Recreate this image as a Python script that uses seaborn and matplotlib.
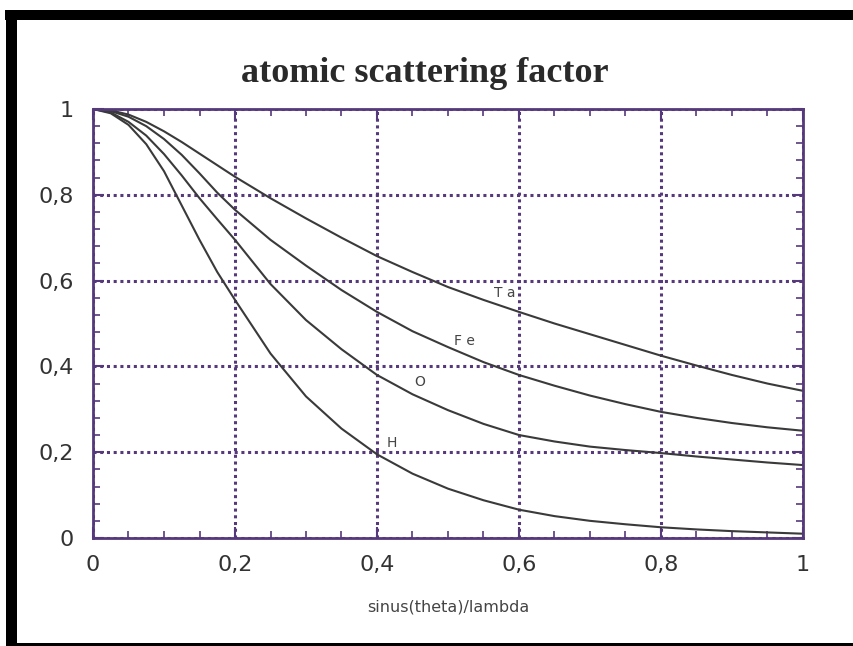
import numpy as np
import pandas as pd
import matplotlib
matplotlib.use("Agg")
import matplotlib.pyplot as plt
from matplotlib.patches import Rectangle
from matplotlib.ticker import MultipleLocator, FuncFormatter
import seaborn as sns

# sin(theta)/lambda sample positions
s = [0.0, 0.025, 0.05, 0.075, 0.1, 0.125, 0.15, 0.175, 0.2, 0.25, 0.3, 0.35,
     0.4, 0.45, 0.5, 0.55, 0.6, 0.65, 0.7, 0.75, 0.8, 0.85, 0.9, 0.95, 1.0]

f_Ta = [1.0, 0.997, 0.987, 0.97, 0.948, 0.923, 0.896, 0.869, 0.842, 0.792, 0.745, 0.70,
        0.657, 0.62, 0.585, 0.555, 0.527, 0.50, 0.475, 0.45, 0.425, 0.402, 0.38, 0.36, 0.343]
f_Fe = [1.0, 0.995, 0.982, 0.96, 0.93, 0.893, 0.85, 0.805, 0.765, 0.695, 0.635, 0.578,
        0.527, 0.482, 0.445, 0.41, 0.38, 0.355, 0.332, 0.312, 0.294, 0.28, 0.268, 0.258, 0.25]
f_O = [1.0, 0.992, 0.97, 0.938, 0.895, 0.845, 0.792, 0.743, 0.695, 0.592, 0.508, 0.44,
       0.38, 0.335, 0.298, 0.266, 0.24, 0.225, 0.213, 0.205, 0.198, 0.19, 0.183, 0.176, 0.17]
f_H = [1.0, 0.99, 0.963, 0.918, 0.855, 0.775, 0.695, 0.62, 0.555, 0.43, 0.33, 0.255,
       0.195, 0.15, 0.115, 0.088, 0.066, 0.051, 0.04, 0.032, 0.025, 0.02, 0.016, 0.013, 0.01]

elements = ["T a", "F e", "O", "H"]
label_x = [0.58, 0.523, 0.46, 0.421]
label_y = [0.571, 0.459, 0.364, 0.221]

df = pd.concat([
    pd.DataFrame({"s": s, "f": f_Ta, "el": "T a"}),
    pd.DataFrame({"s": s, "f": f_Fe, "el": "F e"}),
    pd.DataFrame({"s": s, "f": f_O, "el": "O"}),
    pd.DataFrame({"s": s, "f": f_H, "el": "H"}),
])

purple = "#56397a"
curve = "#3a3a3a"

fig = plt.figure(figsize=(8.54, 6.46), dpi=100)
fig.patch.set_facecolor("white")
ax = fig.add_axes([93/854, 1-538/646, 710/854, 429/646])

sns.lineplot(data=df, x="s", y="f", hue="el", palette={e: curve for e in elements},
             legend=False, ax=ax, linewidth=1.5, sort=False)

ax.set_xlim(0, 1)
ax.set_ylim(0, 1)
ax.xaxis.set_major_locator(MultipleLocator(0.2))
ax.xaxis.set_minor_locator(MultipleLocator(0.05))
ax.yaxis.set_major_locator(MultipleLocator(0.2))
ax.yaxis.set_minor_locator(MultipleLocator(0.04))

fmt = FuncFormatter(lambda v, p: ("%g" % round(v, 2)).replace(".", ","))
ax.xaxis.set_major_formatter(fmt)
ax.yaxis.set_major_formatter(fmt)

ax.grid(True, which="major", color=purple, linestyle=(0, (1, 1.2)), linewidth=2.2)
for sp in ax.spines.values():
    sp.set_color(purple)
    sp.set_linewidth(2)
ax.tick_params(which="both", direction="in", top=True, right=True, color=purple)
ax.tick_params(which="major", length=8, width=1.5, labelsize=16, labelcolor="#333333")
ax.tick_params(axis="x", which="major", pad=12)
ax.tick_params(axis="y", which="major", pad=14)
ax.tick_params(which="minor", length=5, width=1.2)
for lab in ax.get_xticklabels() + ax.get_yticklabels():
    lab.set_fontfamily("DejaVu Sans")

ax.set_xlabel("sinus(theta)/lambda", fontsize=11.5, color="#444444",
              fontfamily="DejaVu Sans", labelpad=18)
ax.set_ylabel("")

for e, lx, ly in zip(elements, label_x, label_y):
    ax.text(lx, ly, e, fontsize=10, color="#444444", ha="center", va="center",
            fontfamily="DejaVu Sans")

fig.text(0.498, 1-73/646, "atomic scattering factor", ha="center", va="center",
         fontsize=26, fontweight="bold", fontfamily="Liberation Serif", color="#2a2a2a")

# black frame of the picture
fig.add_artist(Rectangle((5/854, 1-20/646), 1-5/854, 10/646, transform=fig.transFigure,
                         facecolor="black", edgecolor="none"))
fig.add_artist(Rectangle((6/854, 0), 11/854, 1-20/646, transform=fig.transFigure,
                         facecolor="black", edgecolor="none"))
fig.add_artist(Rectangle((6/854, 0), 1-6/854, 3/646, transform=fig.transFigure,
                         facecolor="black", edgecolor="none"))

fig.savefig("out.png", dpi=100)
